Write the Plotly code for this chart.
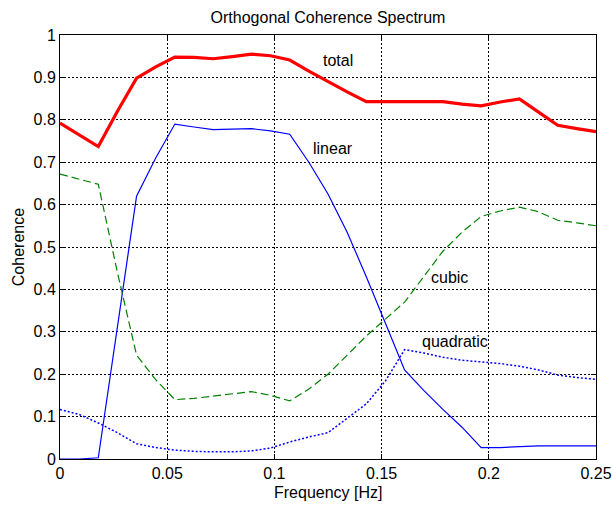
import plotly.graph_objects as go

# Frequency grid (Hz)
freq = [0.0, 0.00893, 0.01786, 0.02679, 0.03571, 0.04464, 0.05357, 0.0625,
        0.07143, 0.08036, 0.08929, 0.09821, 0.10714, 0.11607, 0.125, 0.13393,
        0.14286, 0.15179, 0.16071, 0.16964, 0.17857, 0.1875, 0.19643, 0.20536,
        0.21429, 0.22321, 0.23214, 0.24107, 0.25]

total = [0.792, 0.765, 0.737, 0.82, 0.898, 0.925, 0.948, 0.947,
         0.944, 0.949, 0.955, 0.951, 0.941, 0.915, 0.89, 0.866,
         0.843, 0.843, 0.843, 0.843, 0.843, 0.837, 0.833, 0.842,
         0.849, 0.818, 0.787, 0.779, 0.772]

linear = [0.0, 0.0, 0.003, 0.31, 0.62, 0.71, 0.79, 0.783,
          0.777, 0.778, 0.779, 0.774, 0.766, 0.70, 0.625, 0.535,
          0.43, 0.32, 0.21, 0.162, 0.117, 0.075, 0.027, 0.027,
          0.029, 0.031, 0.031, 0.031, 0.031]

cubic = [0.672, 0.66, 0.648, 0.44, 0.245, 0.187, 0.14, 0.143,
         0.148, 0.153, 0.159, 0.15, 0.137, 0.165, 0.20, 0.245,
         0.29, 0.33, 0.37, 0.43, 0.49, 0.535, 0.572, 0.585,
         0.594, 0.583, 0.563, 0.557, 0.55]

quadratic = [0.117, 0.105, 0.085, 0.062, 0.036, 0.027, 0.021, 0.018,
             0.017, 0.017, 0.019, 0.026, 0.04, 0.052, 0.062, 0.095,
             0.13, 0.184, 0.258, 0.25, 0.24, 0.233, 0.229, 0.225,
             0.219, 0.21, 0.198, 0.192, 0.188]

x_ticks = [0, 0.05, 0.1, 0.15, 0.2, 0.25]
x_tick_labels = ["0", "0.05", "0.1", "0.15", "0.2", "0.25"]
y_ticks = [0, 0.1, 0.2, 0.3, 0.4, 0.5, 0.6, 0.7, 0.8, 0.9, 1]
y_tick_labels = ["0", "0.1", "0.2", "0.3", "0.4", "0.5", "0.6", "0.7", "0.8", "0.9", "1"]

labels = [("total", 0.1217, 0.941), ("linear", 0.117, 0.733),
          ("cubic", 0.1721, 0.429), ("quadratic", 0.1679, 0.276)]

FONT = "Liberation Sans, Arial, sans-serif"
FS = 16

fig = go.Figure()
fig.add_trace(go.Scatter(x=freq, y=total, mode="lines",
                         line=dict(color="rgb(255,0,0)", width=3.2), name="total"))
fig.add_trace(go.Scatter(x=freq, y=linear, mode="lines",
                         line=dict(color="rgb(0,0,255)", width=1.2), name="linear"))
fig.add_trace(go.Scatter(x=freq, y=cubic, mode="lines",
                         line=dict(color="rgb(0,128,0)", width=1.2, dash="8px,4px"), name="cubic"))
fig.add_trace(go.Scatter(x=freq, y=quadratic, mode="lines",
                         line=dict(color="rgb(0,0,255)", width=1.5, dash="2px,2px"), name="quadratic"))

for txt, lx, ly in labels:
    fig.add_annotation(x=lx, y=ly, text=txt, showarrow=False, xanchor="left",
                       yanchor="middle", font=dict(family=FONT, size=FS, color="black"))

fig.add_annotation(text="Frequency [Hz]", xref="paper", yref="paper", x=0.5, y=-0.08,
                   yanchor="middle", showarrow=False,
                   font=dict(family=FONT, size=FS, color="black"))
fig.add_annotation(text="Coherence", xref="paper", yref="paper", x=-0.078, y=0.5,
                   textangle=-90, xanchor="center", showarrow=False,
                   font=dict(family=FONT, size=FS, color="black"))

axis_common = dict(showline=True, linecolor="black", linewidth=1, mirror="all",
                   ticks="inside", ticklen=5, tickcolor="black", automargin=False,
                   showgrid=True, gridcolor="black", gridwidth=1, griddash="2px,2px",
                   zeroline=False, tickfont=dict(family=FONT, size=FS, color="black"))

fig.update_xaxes(range=[0, 0.25], tickvals=x_ticks, ticktext=x_tick_labels, **axis_common)
fig.update_yaxes(range=[0, 1], tickvals=y_ticks, ticktext=y_tick_labels, **axis_common)

fig.update_layout(
    width=612, height=506,
    margin=dict(l=60, r=16, t=35, b=47),
    paper_bgcolor="white", plot_bgcolor="white",
    showlegend=False,
    title=dict(text="Orthogonal Coherence Spectrum", x=0.5, xref="paper", xanchor="center",
               y=1 - 17 / 506, yanchor="middle",
               font=dict(family=FONT, size=FS, color="black")),
)

fig.write_html("out.html")
